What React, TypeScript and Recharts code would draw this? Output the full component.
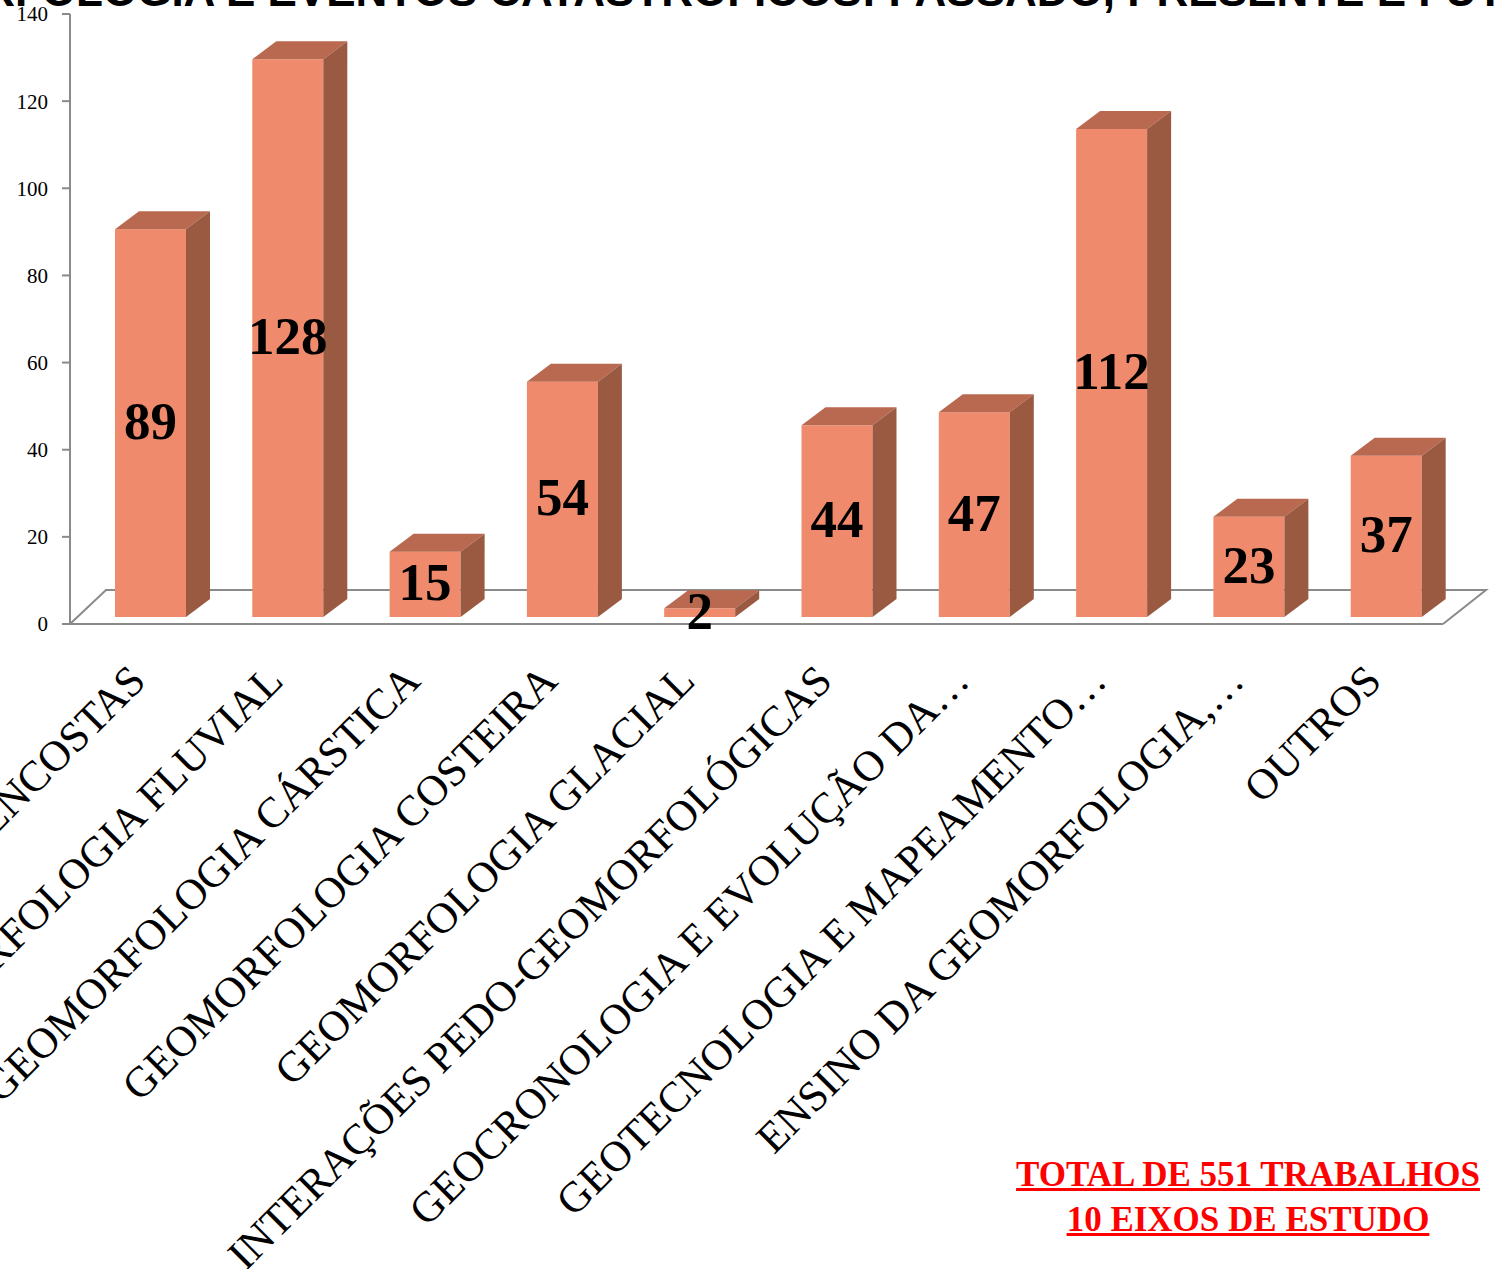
import { BarChart, Bar, XAxis, YAxis, LabelList } from 'recharts';

const categories = [
  'GEOMORFOLOGIA DE ENCOSTAS',
  'GEOMORFOLOGIA FLUVIAL',
  'GEOMORFOLOGIA CÁRSTICA',
  'GEOMORFOLOGIA COSTEIRA',
  'GEOMORFOLOGIA GLACIAL',
  'INTERAÇÕES PEDO-GEOMORFOLÓGICAS',
  'GEOCRONOLOGIA E EVOLUÇÃO DA…',
  'GEOTECNOLOGIA E MAPEAMENTO…',
  'ENSINO DA GEOMORFOLOGIA,…',
  'OUTROS',
];
const trabalhos = [89, 128, 15, 54, 2, 44, 47, 112, 23, 37];
const yTicks = [0, 20, 40, 60, 80, 100, 120, 140];

const data = categories.map((name, i) => ({ name, value: trabalhos[i] }));

const W = 1494;
const H = 1269;
const PLOT_LEFT = 70;
const PLOT_RIGHT = 1443;
const PLOT_TOP = 14;
const BASE_Y = 624;
// pseudo 3D
const FLOOR_DX = 36;
const FLOOR_DX_R = 43;
const FLOOR_DY = 34;
const SHIFT_X = 12;
const SHIFT_Y = -7;
const DX = 24;
const DY = 18;

const FRONT = '#EF8B6C';
const TOP = '#B8694F';
const SIDE = '#9A5A42';
const AXIS = '#8a8a8a';
const SERIF = '"Liberation Serif", "Times New Roman", serif';

function Bar3D(props: any) {
  const { x, y, width, height } = props;
  if (x == null || y == null) return null;
  const fx = x + SHIFT_X;
  const fy = y + SHIFT_Y;
  const h = Math.max(height, 0);
  return (
    <g>
      <rect x={fx} y={fy} width={width} height={h} fill={FRONT} />
      <polygon
        points={`${fx},${fy} ${fx + width},${fy} ${fx + width + DX},${fy - DY} ${fx + DX},${fy - DY}`}
        fill={TOP}
      />
      <polygon
        points={`${fx + width},${fy} ${fx + width + DX},${fy - DY} ${fx + width + DX},${fy + h - DY} ${fx + width},${fy + h}`}
        fill={SIDE}
      />
    </g>
  );
}

function ValueLabel(props: any) {
  const { x, y, width, height, value } = props;
  const cx = x + SHIFT_X + width / 2;
  const cy = y + SHIFT_Y + height / 2 - 2;
  return (
    <text x={cx} y={cy + 18} textAnchor="middle" fontFamily={SERIF} fontWeight={700} fontSize={53} fill="#000">
      {value}
    </text>
  );
}

function CategoryTick(props: any) {
  const { x, y, payload } = props;
  return (
    <text
      transform={`translate(${x + 9},${y + 59}) rotate(-45)`}
      textAnchor="end"
      fontFamily={SERIF}
      fontSize={43}
      fill="#000"
    >
      {payload.value}
    </text>
  );
}

export default function App() {
  return (
    <div style={{ position: 'absolute', left: 0, top: 0, width: W, height: H, background: '#fff', overflow: 'hidden' }}>
      <svg width={W} height={H} style={{ position: 'absolute', left: 0, top: 0 }}>
        <text x={708} y={6} textAnchor="middle" fontFamily='"Liberation Sans", Arial, sans-serif' fontWeight={700} fontSize={44} fill="#000">
          GEOMORFOLOGIA E EVENTOS CATASTRÓFICOS: PASSADO, PRESENTE E FUTURO
        </text>
        <polyline
          points={`${PLOT_LEFT},${BASE_Y} ${PLOT_LEFT + FLOOR_DX},${BASE_Y - FLOOR_DY} ${PLOT_RIGHT + FLOOR_DX_R},${BASE_Y - FLOOR_DY} ${PLOT_RIGHT},${BASE_Y}`}
          fill="none"
          stroke={AXIS}
          strokeWidth={2}
        />
      </svg>
      <div style={{ position: 'absolute', left: 0, top: 0 }}>
        <BarChart
          width={W}
          height={H}
          data={data}
          margin={{ top: PLOT_TOP, right: W - PLOT_RIGHT, left: 0, bottom: 0 }}
        >
          <YAxis
            width={PLOT_LEFT}
            domain={[0, 140]}
            ticks={yTicks}
            interval={0}
            axisLine={{ stroke: AXIS, strokeWidth: 2 }}
            tickLine={{ stroke: AXIS, strokeWidth: 2 }}
            tickSize={8}
            tickMargin={14}
            tick={{ fontFamily: SERIF, fontSize: 21, fill: '#000' }}
          />
          <XAxis
            dataKey="name"
            height={H - BASE_Y}
            interval={0}
            tickLine={false}
            tickSize={0}
            tickMargin={0}
            axisLine={{ stroke: AXIS, strokeWidth: 2 }}
            tick={<CategoryTick />}
          />
          <Bar dataKey="value" barSize={71} shape={<Bar3D />} isAnimationActive={false}>
            <LabelList dataKey="value" content={<ValueLabel />} />
          </Bar>
        </BarChart>
      </div>
      <div
        style={{
          position: 'absolute',
          left: 1000,
          top: 1152,
          width: 496,
          textAlign: 'center',
          fontFamily: SERIF,
          fontWeight: 700,
          fontSize: 35,
          lineHeight: '45px',
          color: '#ff0000',
          textDecoration: 'underline',
        }}
      >
        TOTAL DE 551 TRABALHOS
        <br />
        10 EIXOS DE ESTUDO
      </div>
    </div>
  );
}
